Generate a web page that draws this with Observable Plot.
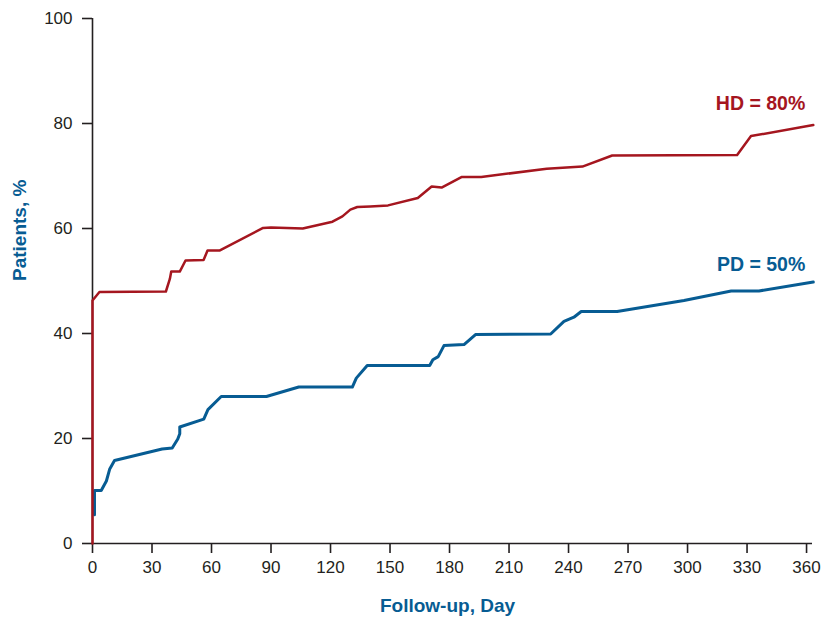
<!DOCTYPE html>
<html>
<head>
<meta charset="utf-8">
<script src="https://cdn.jsdelivr.net/npm/d3@7"></script>
<script src="https://cdn.jsdelivr.net/npm/@observablehq/plot@0.6"></script>
<style>
  html, body { margin: 0; padding: 0; background: #ffffff; }
</style>
</head>
<body>
<div id="chart"></div>
<script>
// ---- Data ----
const hdDay = [0, 0, 3.5, 37, 39, 39.7, 44, 46.9, 56, 58, 64, 86, 90, 106, 121, 126, 130, 133.5, 140, 149, 164, 171, 176, 186, 196, 229, 247, 262, 325, 332, 363.4];
const hdPct = [0, 46.3, 47.9, 48, 50.4, 51.8, 51.8, 53.9, 54, 55.8, 55.8, 60.1, 60.2, 60, 61.3, 62.3, 63.6, 64.1, 64.2, 64.4, 65.8, 68, 67.8, 69.8, 69.8, 71.4, 71.8, 73.9, 74, 77.6, 79.7];

const pdDay = [1, 1, 4.4, 7, 8.7, 11.1, 35.1, 40.2, 43, 44, 44, 56.1, 58.2, 64.9, 87.7, 104, 131, 133, 138.5, 170, 171.6, 174.3, 177.2, 187.3, 193.1, 231, 237.7, 242.7, 246.4, 264.5, 298.2, 322, 336, 363.4];
const pdPct = [5.5, 10.1, 10.1, 11.9, 14.2, 15.8, 18.0, 18.2, 19.9, 20.9, 22.2, 23.7, 25.5, 28.0, 28.0, 29.8, 29.8, 31.5, 33.9, 33.9, 35, 35.6, 37.7, 37.9, 39.8, 39.9, 42.3, 43.1, 44.2, 44.2, 46.3, 48.1, 48.1, 49.8];

const seriesLabels = ["HD = 80%", "PD = 50%"];
const xTicks = [0, 30, 60, 90, 120, 150, 180, 210, 240, 270, 300, 330, 360];
const yTicks = [0, 20, 40, 60, 80, 100];
const xTitle = "Follow-up, Day";
const yTitle = "Patients, %";

// ---- Build tables ----
const hd = hdDay.map((d, i) => ({day: d, pct: hdPct[i], label: seriesLabels[0]}));
const pd = pdDay.map((d, i) => ({day: d, pct: pdPct[i], label: seriesLabels[1]}));

const RED = "#a5161f";
const BLUE = "#075c93";
const INK = "#231f20";
const FONT = "'Liberation Sans', Arial, Helvetica, sans-serif";

const chart = Plot.plot({
  width: 821,
  height: 620,
  marginLeft: 92,
  marginRight: 9,
  marginTop: 18,
  marginBottom: 77,
  x: {domain: [0, 363]},
  y: {domain: [0, 100]},
  style: {fontFamily: FONT, fontSize: "17px", color: INK, background: "#ffffff", overflow: "visible"},
  marks: [
    Plot.axisX({ticks: xTicks, tickSize: 10, tickPadding: 7, label: null, stroke: INK, strokeWidth: 1.6, fill: INK, fontSize: 17}),
    Plot.axisY({ticks: yTicks, tickSize: 10, tickPadding: 10, label: null, stroke: INK, strokeWidth: 1.6, fill: INK, fontSize: 17}),
    Plot.ruleX([0], {stroke: INK, strokeWidth: 1.6}),
    Plot.ruleY([0], {stroke: INK, strokeWidth: 1.6}),
    Plot.line(pd, {x: "day", y: "pct", stroke: BLUE, strokeWidth: 3, strokeLinejoin: "round"}),
    Plot.line(hd, {x: "day", y: "pct", stroke: RED, strokeWidth: 2.5, strokeLinejoin: "round"}),
    Plot.text(hd, Plot.selectLast({x: "day", y: "pct", text: "label", fill: RED, fontWeight: "bold", fontSize: 19.5, textAnchor: "end", dx: -8, dy: -21})),
    Plot.text(pd, Plot.selectLast({x: "day", y: "pct", text: "label", fill: BLUE, fontWeight: "bold", fontSize: 19.5, textAnchor: "end", dx: -8, dy: -17})),
    Plot.text([xTitle], {text: d => d, frameAnchor: "bottom", dy: 68, dx: -5, fill: BLUE, fontWeight: "bold", fontSize: 19}),
    Plot.text([yTitle], {text: d => d, frameAnchor: "left", rotate: -90, dx: -73, fill: BLUE, fontWeight: "bold", fontSize: 19})
  ]
});

document.getElementById("chart").appendChild(chart);
</script>
</body>
</html>
